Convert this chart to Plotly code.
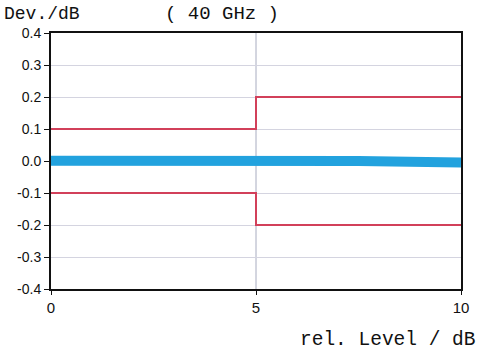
import plotly.graph_objects as go

# Data
level_x = [0, 2.5, 5, 7.5, 10]
dev_y = [0.001, 0.002, 0.003, 0.0, -0.005]
limit_x = [0, 5, 5, 10]
upper_limit = [0.1, 0.1, 0.2, 0.2]
lower_limit = [-0.1, -0.1, -0.2, -0.2]
x_ticks = [0, 5, 10]
y_ticks = [-0.4, -0.3, -0.2, -0.1, 0.0, 0.1, 0.2, 0.3, 0.4]
y_labels = ["-0.4", "-0.3", "-0.2", "-0.1", "0.0", "0.1", "0.2", "0.3", "0.4"]

fig = go.Figure()
fig.add_trace(go.Scatter(x=level_x, y=dev_y, mode="lines",
                         line=dict(color="#22a2de", width=10), hoverinfo="skip"))
fig.add_trace(go.Scatter(x=limit_x, y=upper_limit, mode="lines",
                         line=dict(color="#d2405a", width=2), hoverinfo="skip"))
fig.add_trace(go.Scatter(x=limit_x, y=lower_limit, mode="lines",
                         line=dict(color="#d2405a", width=2), hoverinfo="skip"))

# vertical grid at x=5
fig.add_shape(type="line", x0=5, x1=5, y0=-0.4, y1=0.4, xref="x", yref="y",
              line=dict(color="#a8acc0", width=1), layer="below")

L, R, T, B = 51, 18, 33, 62
W, H = 479, 351
mono = "Liberation Mono, Courier New, monospace"

fig.update_layout(
    width=W, height=H,
    margin=dict(l=L, r=R, t=T, b=B, autoexpand=False),
    paper_bgcolor="white", plot_bgcolor="white",
    showlegend=False,
    font=dict(family="Liberation Sans, Arial", size=14, color="#111"),
    xaxis=dict(range=[0, 10], tickvals=x_ticks, showgrid=False, zeroline=False,
               showline=True, mirror=True, linecolor="#111", linewidth=2,
               ticks="outside", ticklen=4, tickcolor="#111", tickfont=dict(size=15),
               automargin=False),
    yaxis=dict(range=[-0.4, 0.4], tickvals=y_ticks, ticktext=y_labels,
               showgrid=True, gridcolor="#d4d4e0", gridwidth=1, zeroline=False,
               showline=True, mirror=True, linecolor="#111", linewidth=2,
               ticks="outside", ticklen=5, tickcolor="#111", tickfont=dict(size=14),
               automargin=False),
    annotations=[
        dict(text="Dev./dB", x=2, y=14, showarrow=False,
             font=dict(family=mono, size=18, color="#111"),
             xanchor="left", yanchor="middle"),
        dict(text="( 40 GHz )", x=163, y=14, showarrow=False,
             font=dict(family=mono, size=19, color="#111"),
             xanchor="left", yanchor="middle"),
        dict(text="rel. Level / dB", x=478, y=340, showarrow=False,
             font=dict(family=mono, size=19.5, color="#111"),
             xanchor="right", yanchor="middle"),
    ],
)

# convert pixel positions of annotations to paper coords
pw = W - L - R
ph = H - T - B
for a in fig.layout.annotations:
    a.xref = "paper"
    a.yref = "paper"
    a.x = (a.x - L) / pw
    a.y = (H - B - a.y) / ph

fig.write_html("out.html", config={"displayModeBar": False},
               post_script="document.body.style.margin='0';document.body.style.overflow='hidden';")
